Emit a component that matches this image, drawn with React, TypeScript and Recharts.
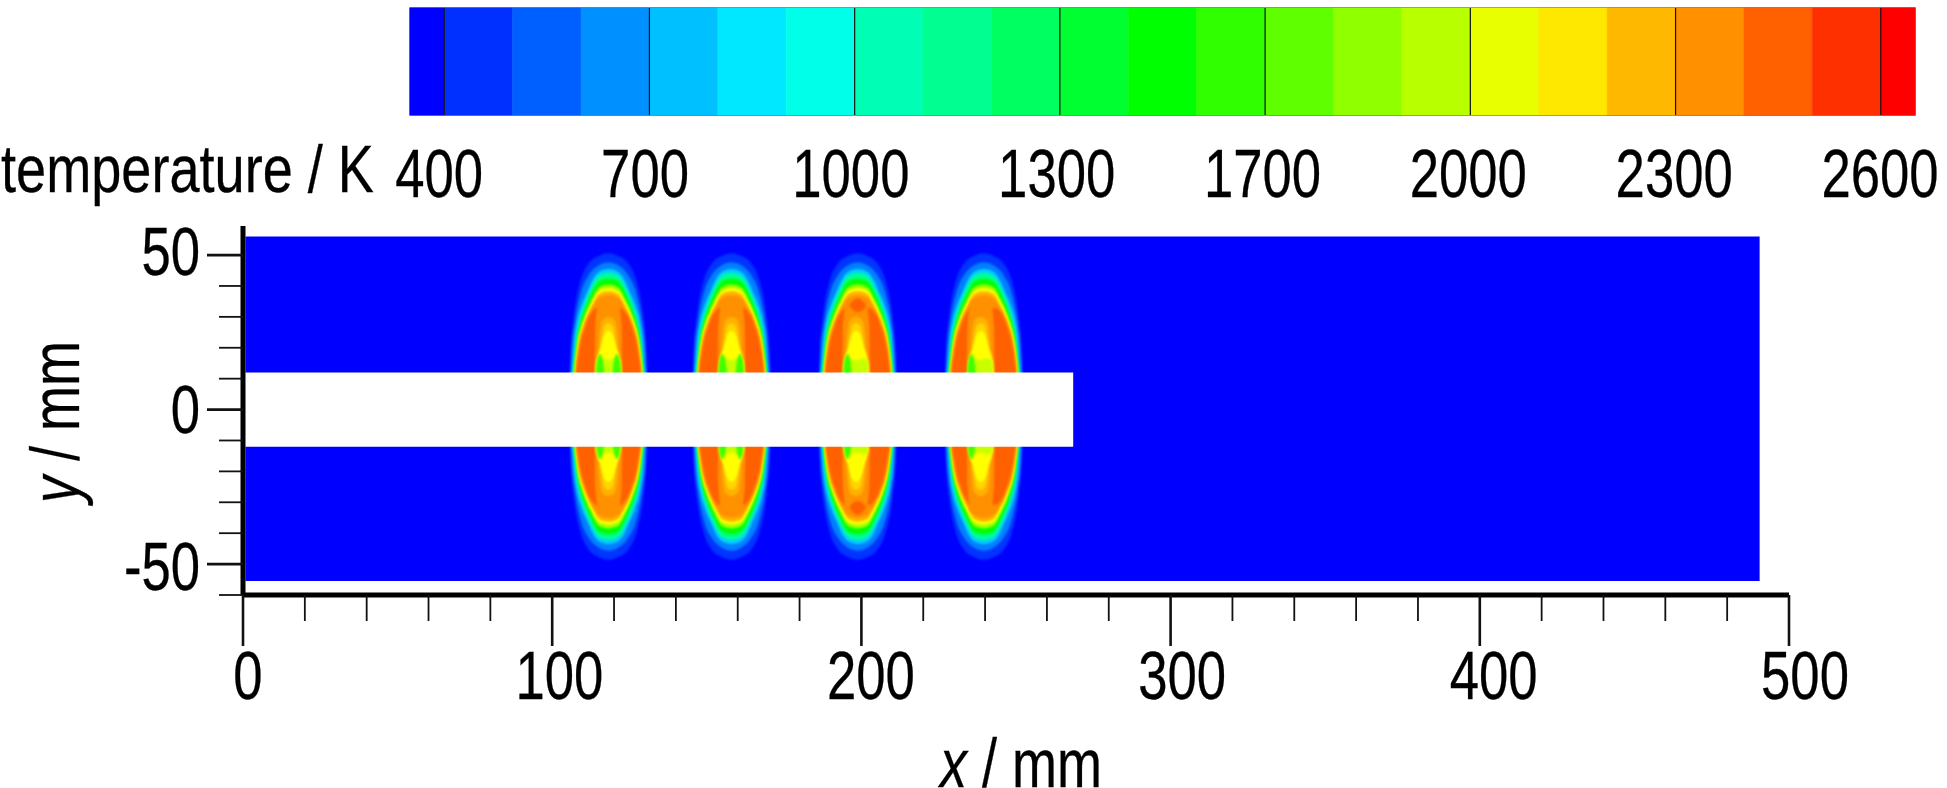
import React from 'react';
import { Area, Bar, BarChart, ComposedChart, ReferenceArea, ReferenceLine, XAxis, YAxis } from 'recharts';

// colour bar
const COLOR_BAND_COLORS = [
  '#0000ff', '#0030ff', '#0060ff', '#0090ff', '#00c0ff', '#00e8ff', '#00ffe8', '#00ffb4',
  '#00ff90', '#00ff60', '#00ff30', '#00ff00', '#30ff00', '#60ff00', '#90ff00', '#b8ff00',
  '#e8ff00', '#ffe800', '#ffb800', '#ff9000', '#ff6000', '#ff3000', '#ff0000',
];
const COLOR_BAND_WIDTHS = [0.5, 1, 1, 1, 1, 1, 1, 1, 1, 1, 1, 1, 1, 1, 1, 1, 1, 1, 1, 1, 1, 1, 0.5];
const COLOR_TICKS = [0.5, 3.5, 6.5, 9.5, 12.5, 15.5, 18.5, 21.5];
const COLOR_TICK_LABELS = ['400', '700', '1000', '1300', '1700', '2000', '2300', '2600'];

// axes of the field plot, mm
const X_TICKS = [0, 20, 40, 60, 80, 100, 120, 140, 160, 180, 200, 220, 240, 260, 280, 300, 320, 340, 360, 380, 400, 420, 440, 460, 480, 500];
const Y_TICKS = [-60, -50, -40, -30, -20, -10, 0, 10, 20, 30, 40, 50];
const Y_LABELLED = [-50, 0, 50];

// burner domain and the white slab, mm
const DOMAIN_X = [0.8, 490.5];
const DOMAIN_Y = [-55.5, 56];
const SLAB_X = [0, 268.5];
const SLAB_Y = [-12, 12];

// flames: isotherm half-widths (dx) and heights (h), mm
const FLAME_CENTERS = [118.2, 158, 198.8, 239.6];
const CORE_SHIFTS = [0, 0, -0.5, -1];
const LOWER_TRIM = 2;

const BAND_COLORS = ['#0034ff', '#0080ff', '#00d0ff', '#00ff90', '#00ff00', '#a0ff00', '#ffff00', '#ffb000', '#ff9000', '#ff6000'];
const BAND_DX = [
  [0, 3, 6.6, 9.1, 11.2, 12.2, 12.6],
  [0, 3, 6.4, 8.9, 10.9, 12, 12.3],
  [0, 3, 5.4, 6.7, 8.8, 10, 11, 11.6, 12.1],
  [0, 3, 6, 8, 9.5, 10.6, 11.3, 11.7],
  [0, 3, 5.8, 7.8, 9.2, 10.3, 11, 11.4],
  [0, 3, 5.5, 7.5, 9, 10.1, 10.8, 11.2],
  [0, 3, 5.2, 6.8, 8.2, 9.4, 10.2, 10.7, 11],
  [0, 3, 5, 6.6, 8, 9.2, 10, 10.5, 10.8],
  [0, 3, 5.2, 6.4, 7.8, 9, 9.8, 10.3, 10.6],
  [0, 4, 5, 6.3, 7.6, 8.8, 9.6, 10.2, 10.5],
];
const BAND_H = [
  [50.6, 49.8, 47, 41.5, 30.5, 19.7, 10],
  [47.7, 46.8, 43.5, 38, 28, 18, 10],
  [45.5, 44.7, 41.5, 38.5, 33.5, 29.5, 23, 14.5, 10],
  [44.2, 43.4, 38.5, 33.5, 28.5, 22, 14.6, 10],
  [42.3, 41.5, 36.8, 32, 27.5, 21.5, 14.4, 10],
  [40.5, 39.7, 35.6, 31, 26.5, 21, 14.4, 10],
  [39.3, 38.5, 35, 31.8, 28, 24, 19, 14.4, 10],
  [38.3, 37.5, 34.2, 31, 27.5, 23.5, 18.5, 14, 10],
  [37, 36.2, 33, 30.5, 27, 23, 18.5, 14, 10],
  [32.5, 32.8, 32, 30, 26.5, 22.5, 18, 14, 10],
];

const CORE_COLORS = ['#ff9000', '#ffb000', '#ffd400', '#ffff00', '#c8ff00'];
const CORE_DX = [
  [0, 3, 4.3, 4.5],
  [0, 2, 3.1, 3.3],
  [0, 1.2, 2.2, 2.6],
  [0, 1.2, 2.6, 4, 4.3],
  [0, 2, 3.8, 4.1],
];
const CORE_H = [
  [36, 35.3, 27, 10],
  [30, 29, 22, 10],
  [28, 27.3, 22, 10],
  [25.5, 24.5, 20, 15, 10],
  [16, 16.5, 16, 10],
];

// green spots beside the slab, mm from the flame centre
const SPOT_OFFSETS = [[-2.7, 2.7], [-2.9, 2.7], [-2.8], [-3]];
const SPOT_DX = [0, 0.8, 1.5];
const SPOT_H = [18, 16.5, 11];

// darker spot near the tip of the third flame
const TIP_FLAME = 2;
const TIP_DX = [0, 1.5, 2.7];
const TIP_H_HIGH = [36, 35.2, 33.8];
const TIP_H_LOW = [31.6, 32.2, 33.6];

const FONT = '"Liberation Sans", Arial, sans-serif';
const FONT_SIZE = 68.4;
const BLUR = { filter: 'blur(1px)' };

function mirrored(center: number, dx: number[], h: number[]) {
  const rows = dx.map((d, i) => ({ x: center + d, band: [-(h[i] - LOWER_TRIM), h[i]] }));
  const left = dx.slice(1).map((d, i) => ({ x: center - d, band: [-(h[i + 1] - LOWER_TRIM), h[i + 1]] }));
  return [...left.reverse(), ...rows];
}

function tipSpot(center: number, side: number) {
  const signed = [-TIP_DX[2], -TIP_DX[1], ...TIP_DX];
  return signed.map((d) => {
    const k = TIP_DX.indexOf(Math.abs(d));
    const low = TIP_H_LOW[k];
    const high = TIP_H_HIGH[k];
    return {
      x: center + d,
      band: side > 0 ? [low, high] : [-(high - LOWER_TRIM), -(low - LOWER_TRIM)],
    };
  });
}

function Squeezed({ x, y, sx = 0.77, anchor = 'middle', rotate = 0, size = FONT_SIZE, children }: any) {
  return (
    <text
      transform={`translate(${x},${y}) rotate(${rotate}) scale(${sx},1)`}
      textAnchor={anchor}
      fontFamily={FONT}
      fontSize={size}
      fill="#000"
      stroke="#000"
      strokeWidth={0.3}
    >
      {children}
    </text>
  );
}

function FieldArea({ data, color, style }: { data: { x: number; band: number[] }[]; color: string; style?: React.CSSProperties }) {
  return (
    <Area
      data={data}
      dataKey="band"
      type="monotone"
      fill={color}
      fillOpacity={1}
      stroke="none"
      dot={false}
      activeDot={false}
      isAnimationActive={false}
      style={style}
    />
  );
}

function XTick({ x, y, payload }: any) {
  const major = payload.value % 100 === 0;
  return (
    <g>
      <line x1={x} x2={x} y1={y} y2={y + (major ? 51 : 26)} stroke="#111" strokeWidth={major ? 2.6 : 1.8} />
      {major && <Squeezed x={x + 5 + payload.value * 0.022} y={y + 104}>{payload.value}</Squeezed>}
    </g>
  );
}

function YTick({ x, y, payload }: any) {
  const major = Y_LABELLED.includes(payload.value);
  return (
    <g>
      <line x1={x} x2={x - (major ? 36 : 24)} y1={y} y2={y} stroke="#111" strokeWidth={major ? 2.8 : 1.8} />
      {major && <Squeezed x={200} y={y + 23 - payload.value * 0.06} anchor="end">{payload.value}</Squeezed>}
    </g>
  );
}

function ColorTick({ x, y, payload }: any) {
  const i = COLOR_TICKS.indexOf(payload.value);
  return <Squeezed x={x - 5 + i * 0.6} y={y + 82}>{COLOR_TICK_LABELS[i]}</Squeezed>;
}

function ColorBar() {
  const row: Record<string, number | string> = { name: 'temperature' };
  COLOR_BAND_WIDTHS.forEach((w, i) => {
    row[`b${i}`] = w;
  });
  return (
    <BarChart
      width={1947}
      height={230}
      data={[row]}
      layout="vertical"
      barCategoryGap={0}
      margin={{ top: 8, right: 32, bottom: 0, left: 410 }}
      style={{ position: 'absolute', left: 0, top: 0 }}
    >
      <XAxis
        type="number"
        domain={[0, 22]}
        ticks={COLOR_TICKS}
        interval={0}
        height={115}
        axisLine={false}
        tickLine={false}
        tickSize={0}
        tickMargin={0}
        tick={<ColorTick />}
        label={{
          content: () => <Squeezed x={1} y={192} sx={0.82} size={66} anchor="start">temperature / K</Squeezed>,
        }}
      />
      <YAxis type="category" dataKey="name" hide />
      {COLOR_BAND_COLORS.map((color, i) => (
        <Bar key={i} dataKey={`b${i}`} stackId="temperature" fill={color} stroke={color} strokeWidth={0.6} isAnimationActive={false} />
      ))}
      {COLOR_TICKS.map((t) => (
        <ReferenceLine key={t} x={t} stroke="#111" strokeWidth={1.2} />
      ))}
      <ReferenceArea x1={0} x2={22} fill="none" stroke="#222" strokeOpacity={0.75} strokeWidth={1.5} />
    </BarChart>
  );
}

function FieldPlot() {
  const domain = DOMAIN_X.map((x) => ({ x, band: DOMAIN_Y }));
  const slab = SLAB_X.map((x) => ({ x, band: SLAB_Y }));
  return (
    <ComposedChart
      width={1947}
      height={788}
      margin={{ top: 226, right: 158, bottom: 0, left: 0 }}
      style={{ position: 'absolute', left: 0, top: 0 }}
    >
      <XAxis
        type="number"
        dataKey="x"
        domain={[0, 500]}
        ticks={X_TICKS}
        interval={0}
        height={193}
        allowDataOverflow
        axisLine={{ stroke: '#000', strokeWidth: 5 }}
        tickLine={false}
        tickSize={0}
        tickMargin={0}
        tick={<XTick />}
        label={{
          content: () => (
            <Squeezed x={1021} y={787} sx={0.79}>
              <tspan fontStyle="italic">x</tspan> / mm
            </Squeezed>
          ),
        }}
      />
      <YAxis
        type="number"
        domain={[-60, 59.4]}
        ticks={Y_TICKS}
        interval={0}
        width={243}
        allowDataOverflow
        axisLine={{ stroke: '#000', strokeWidth: 5 }}
        tickLine={false}
        tickSize={0}
        tickMargin={0}
        tick={<YTick />}
        label={{
          content: () => (
            <Squeezed x={79} y={422} sx={0.79} rotate={-90}>
              <tspan fontStyle="italic">y</tspan> / mm
            </Squeezed>
          ),
        }}
      />
      <FieldArea data={domain} color="#0000ff" />
      {FLAME_CENTERS.map((center, f) => (
        <React.Fragment key={f}>
          {BAND_COLORS.map((color, i) => (
            <FieldArea key={`band-${i}`} data={mirrored(center, BAND_DX[i], BAND_H[i])} color={color} style={BLUR} />
          ))}
          {CORE_COLORS.map((color, i) => (
            <FieldArea key={`core-${i}`} data={mirrored(center + CORE_SHIFTS[f], CORE_DX[i], CORE_H[i])} color={color} style={BLUR} />
          ))}
          {SPOT_OFFSETS[f].map((offset) => (
            <FieldArea key={`spot-${offset}`} data={mirrored(center + CORE_SHIFTS[f] + offset, SPOT_DX, SPOT_H)} color="#40ff00" style={BLUR} />
          ))}
          {f === TIP_FLAME &&
            [1, -1].map((side) => (
              <FieldArea key={`tip-${side}`} color="#ff6000" data={tipSpot(center, side)} style={BLUR} />
            ))}
        </React.Fragment>
      ))}
      <FieldArea data={slab} color="#ffffff" />
    </ComposedChart>
  );
}

export default function App() {
  return (
    <div style={{ position: 'absolute', left: 0, top: 0, width: 1947, height: 788 }}>
      <ColorBar />
      <FieldPlot />
    </div>
  );
}
